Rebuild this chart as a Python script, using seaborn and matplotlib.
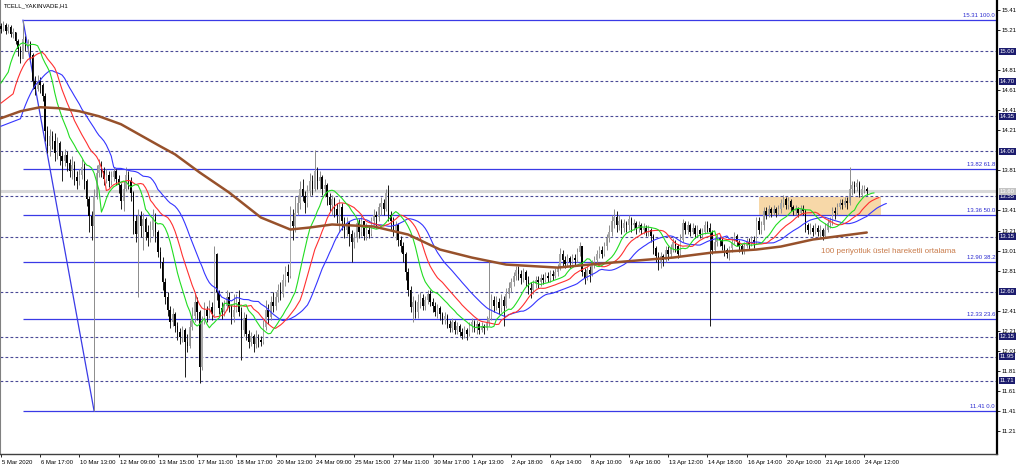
import numpy as np
import pandas as pd
import matplotlib
matplotlib.use("Agg")
import matplotlib.pyplot as plt
import matplotlib.transforms as mtransforms
from matplotlib.patches import Rectangle
import seaborn as sns

# TCELL hourly candles (open = previous close)
first_open = 15.25
closes = [
    15.22, 15.26, 15.20, 15.24, 15.17, 15.19, 15.10, 15.02, 14.92, 15.12, 15.05, 15.08, 14.96, 14.70, 14.62, 14.70,
    14.66, 14.55, 14.20, 14.05, 14.15, 14.10, 13.98, 14.08, 13.95, 13.90, 13.96, 13.88, 13.80, 13.86, 13.74, 13.70,
    13.76, 13.84, 13.70, 13.52, 13.35, 13.25, 13.55, 13.78, 13.86, 13.80, 13.72, 13.76, 13.70, 13.74, 13.80, 13.72,
    13.66, 13.50, 13.62, 13.76, 13.70, 13.58, 13.30, 13.18, 13.35, 13.25, 13.32, 13.20, 13.14, 13.22, 13.34, 13.20,
    13.00, 12.90, 12.70, 12.55, 12.42, 12.30, 12.38, 12.26, 12.20, 12.15, 12.22, 12.10, 12.06, 12.25, 12.36, 12.50,
    12.40, 11.85, 12.30, 12.42, 12.36, 12.45, 12.38, 12.98, 12.60, 12.44, 12.40, 12.46, 12.55, 12.45, 12.35, 12.42,
    12.50, 12.40, 12.22, 12.34, 12.18, 12.10, 12.16, 12.08, 12.14, 12.12, 12.10, 12.25, 12.42, 12.35, 12.50, 12.46,
    12.55, 12.62, 12.58, 12.72, 12.80, 12.76, 13.30, 13.25, 13.38, 13.48, 13.62, 13.55, 13.48, 13.60, 13.70, 13.62,
    13.80, 13.70, 13.74, 13.62, 13.66, 13.54, 13.46, 13.52, 13.42, 13.36, 13.44, 13.30, 13.22, 13.28, 13.18, 13.10,
    13.14, 13.28, 13.20, 13.30, 13.16, 13.22, 13.18, 13.30, 13.36, 13.34, 13.44, 13.48, 13.42, 13.58, 13.36, 13.30,
    13.22, 13.26, 13.12, 13.06, 12.98, 12.80, 12.62, 12.45, 12.50, 12.40, 12.50, 12.54, 12.46, 12.52, 12.58, 12.50,
    12.46, 12.40, 12.44, 12.38, 12.32, 12.36, 12.28, 12.24, 12.30, 12.22, 12.26, 12.20, 12.16, 12.22, 12.18, 12.26,
    12.30, 12.24, 12.28, 12.22, 12.26, 12.24, 12.30, 12.34, 12.52, 12.46, 12.50, 12.44, 12.52, 12.46, 12.58, 12.64,
    12.70, 12.76, 12.82, 12.78, 12.74, 12.80, 12.72, 12.64, 12.62, 12.68, 12.72, 12.70, 12.74, 12.72, 12.76, 12.74,
    12.78, 12.76, 12.80, 12.84, 12.98, 12.92, 12.88, 12.94, 12.90, 12.94, 12.92, 13.00, 13.06, 12.80, 12.74, 12.82,
    12.78, 12.88, 12.92, 12.98, 13.02, 12.98, 13.06, 13.14, 13.20, 13.30, 13.34, 13.26, 13.30, 13.24, 13.28, 13.26,
    13.32, 13.26, 13.28, 13.24, 13.26, 13.22, 13.24, 13.20, 13.22, 13.16, 13.04, 12.96, 12.90, 12.96, 12.92, 13.02,
    12.98, 13.04, 13.10, 13.06, 12.98, 13.12, 13.28, 13.22, 13.26, 13.20, 13.24, 13.18, 13.22, 13.18, 13.20, 13.26,
    13.24, 13.20, 13.02, 13.10, 13.14, 13.12, 13.06, 13.02, 12.98, 13.04, 13.10, 13.16, 13.10, 13.06, 13.02, 13.06,
    13.10, 13.08, 13.12, 13.10, 13.30, 13.22, 13.26, 13.40, 13.36, 13.42, 13.38, 13.42, 13.38, 13.42, 13.48, 13.52,
    13.46, 13.50, 13.44, 13.40, 13.42, 13.38, 13.42, 13.40, 13.26, 13.22, 13.24, 13.20, 13.24, 13.20, 13.22, 13.16,
    13.22, 13.28, 13.30, 13.40, 13.38, 13.44, 13.48, 13.46, 13.50, 13.48, 13.62, 13.66, 13.64, 13.68, 13.56, 13.62, 13.62, 13.60,
]
highs = [
    15.28, 15.30, 15.28, 15.27, 15.26, 15.23, 15.19, 15.12, 15.05, 15.31, 15.15, 15.12, 15.10, 14.98, 14.75, 14.76,
    14.74, 14.68, 14.58, 14.25, 14.22, 14.20, 14.18, 14.14, 14.10, 14.00, 14.02, 14.00, 13.92, 13.95, 13.90, 13.80,
    13.82, 13.92, 13.88, 13.72, 13.55, 13.40, 13.62, 13.86, 13.92, 13.90, 13.84, 13.82, 13.80, 13.80, 13.84, 13.82,
    13.76, 13.68, 13.70, 13.84, 13.80, 13.74, 13.60, 13.36, 13.42, 13.40, 13.38, 13.34, 13.26, 13.30, 13.42, 13.38,
    13.22, 13.05, 12.95, 12.74, 12.60, 12.46, 12.44, 12.40, 12.30, 12.24, 12.26, 12.24, 12.18, 12.32, 12.45, 12.58,
    12.55, 12.42, 12.36, 12.50, 12.46, 12.52, 12.50, 13.06, 12.99, 12.62, 12.50, 12.52, 12.62, 12.60, 12.48, 12.58,
    12.58, 12.62, 12.45, 12.40, 12.38, 12.22, 12.20, 12.18, 12.22, 12.18, 12.16, 12.32, 12.52, 12.48, 12.56, 12.60,
    12.60, 12.68, 12.70, 12.78, 12.86, 12.88, 13.45, 13.42, 13.55, 13.56, 13.70, 13.72, 13.60, 13.66, 13.78, 13.76,
    14.01, 13.84, 13.80, 13.76, 13.72, 13.68, 13.58, 13.56, 13.54, 13.48, 13.52, 13.48, 13.34, 13.34, 13.30, 13.22,
    13.20, 13.32, 13.32, 13.36, 13.30, 13.28, 13.26, 13.34, 13.42, 13.40, 13.48, 13.54, 13.52, 13.62, 13.66, 13.40,
    13.34, 13.30, 13.28, 13.16, 13.10, 13.00, 12.84, 12.66, 12.56, 12.52, 12.58, 12.60, 12.58, 12.56, 12.62, 12.62,
    12.54, 12.50, 12.48, 12.46, 12.40, 12.40, 12.38, 12.32, 12.34, 12.32, 12.30, 12.28, 12.24, 12.26, 12.24, 12.30,
    12.34, 12.32, 12.32, 12.30, 12.30, 12.28, 12.36, 12.92, 12.58, 12.56, 12.56, 12.54, 12.58, 12.56, 12.64, 12.70,
    12.74, 12.80, 12.86, 12.86, 12.82, 12.84, 12.82, 12.76, 12.70, 12.72, 12.76, 12.76, 12.78, 12.78, 12.80, 12.80,
    12.82, 12.82, 12.84, 12.88, 13.04, 13.02, 12.96, 12.98, 12.96, 12.98, 12.98, 13.04, 13.10, 13.06, 12.84, 12.86,
    12.86, 12.92, 12.96, 13.02, 13.06, 13.06, 13.10, 13.18, 13.26, 13.36, 13.42, 13.40, 13.36, 13.32, 13.32, 13.30,
    13.36, 13.34, 13.32, 13.30, 13.30, 13.28, 13.28, 13.26, 13.26, 13.24, 13.18, 13.06, 13.00, 13.00, 12.98, 13.06,
    13.06, 13.08, 13.14, 13.12, 13.08, 13.18, 13.32, 13.30, 13.30, 13.28, 13.28, 13.26, 13.26, 13.24, 13.24, 13.30,
    13.30, 13.28, 13.22, 13.14, 13.18, 13.16, 13.14, 13.08, 13.04, 13.06, 13.14, 13.20, 13.18, 13.12, 13.08, 13.10,
    13.14, 13.14, 13.16, 13.16, 13.34, 13.34, 13.30, 13.44, 13.44, 13.46, 13.44, 13.46, 13.44, 13.46, 13.52, 13.56,
    13.54, 13.54, 13.52, 13.46, 13.46, 13.44, 13.46, 13.46, 13.42, 13.28, 13.28, 13.26, 13.28, 13.26, 13.26, 13.24,
    13.28, 13.32, 13.34, 13.44, 13.44, 13.48, 13.52, 13.52, 13.54, 13.54, 13.84, 13.70, 13.70, 13.72, 13.70, 13.66, 13.66, 13.64,
]
lows = [
    15.18, 15.20, 15.17, 15.18, 15.14, 15.13, 15.07, 14.95, 14.88, 14.93, 15.00, 14.98, 14.92, 14.62, 14.56, 14.60,
    14.58, 14.50, 14.10, 13.98, 13.95, 14.02, 13.90, 13.92, 13.86, 13.70, 13.85, 13.80, 13.74, 13.72, 13.66, 13.62,
    13.66, 13.72, 13.62, 13.45, 13.20, 13.12, 11.41, 13.52, 13.74, 13.74, 13.66, 13.68, 13.64, 13.66, 13.70, 13.66,
    13.58, 13.42, 13.40, 13.60, 13.62, 13.50, 13.18, 13.10, 12.55, 13.15, 13.02, 13.12, 13.06, 13.10, 13.16, 13.10,
    12.95, 12.84, 12.62, 12.48, 12.36, 12.24, 12.26, 12.20, 12.12, 12.08, 12.10, 11.75, 12.00, 12.04, 12.22, 12.30,
    12.32, 11.69, 11.82, 12.28, 12.30, 12.34, 12.32, 12.36, 12.52, 12.38, 12.33, 12.36, 12.42, 12.40, 12.28, 12.30,
    12.40, 12.36, 11.92, 12.16, 12.12, 12.04, 12.06, 12.00, 12.04, 12.05, 12.06, 12.08, 12.22, 12.28, 12.32, 12.40,
    12.42, 12.50, 12.52, 12.55, 12.66, 12.70, 12.74, 13.12, 13.20, 13.36, 13.42, 13.50, 13.38, 13.44, 13.55, 13.56,
    13.60, 13.62, 13.62, 13.56, 13.54, 13.46, 13.40, 13.36, 13.34, 13.28, 13.20, 13.22, 13.14, 13.16, 13.06, 12.90,
    13.04, 13.10, 13.14, 13.16, 13.12, 13.12, 13.14, 13.16, 13.26, 13.24, 13.30, 13.36, 13.36, 13.40, 13.30, 13.22,
    13.16, 13.12, 13.06, 13.00, 12.90, 12.72, 12.56, 12.40, 12.30, 12.34, 12.34, 12.44, 12.42, 12.42, 12.48, 12.46,
    12.40, 12.36, 12.34, 12.32, 12.28, 12.28, 12.24, 12.20, 12.20, 12.18, 12.18, 12.16, 12.13, 12.14, 12.12, 12.16,
    12.20, 12.20, 12.18, 12.18, 12.20, 12.18, 12.22, 12.26, 12.32, 12.40, 12.42, 12.38, 12.40, 12.26, 12.44, 12.54,
    12.60, 12.66, 12.72, 12.72, 12.68, 12.70, 12.66, 12.58, 12.54, 12.58, 12.64, 12.64, 12.66, 12.68, 12.70, 12.70,
    12.70, 12.72, 12.74, 12.76, 12.82, 12.86, 12.84, 12.86, 12.84, 12.88, 12.86, 12.90, 12.96, 12.76, 12.68, 12.72,
    12.70, 12.76, 12.84, 12.88, 12.94, 12.94, 12.96, 13.02, 13.10, 13.16, 13.24, 13.20, 13.22, 13.18, 13.20, 13.20,
    13.22, 13.20, 13.22, 13.18, 13.20, 13.18, 13.18, 13.16, 13.16, 13.10, 12.98, 12.90, 12.82, 12.84, 12.86, 12.90,
    12.92, 12.94, 13.00, 13.00, 12.94, 12.96, 13.10, 13.18, 13.18, 13.16, 13.18, 13.14, 13.16, 13.14, 13.14, 13.18,
    13.20, 12.26, 12.98, 13.00, 13.06, 13.06, 13.02, 12.96, 12.94, 12.92, 13.00, 13.08, 13.06, 13.00, 12.98, 12.98,
    13.04, 13.02, 13.06, 13.04, 13.08, 13.18, 13.18, 13.22, 13.32, 13.34, 13.34, 13.36, 13.34, 13.36, 13.38, 13.44,
    13.42, 13.42, 13.40, 13.36, 13.36, 13.34, 13.36, 13.36, 13.20, 13.18, 13.18, 13.16, 13.18, 13.16, 13.14, 13.12,
    13.14, 13.20, 13.24, 13.26, 13.32, 13.36, 13.42, 13.42, 13.44, 13.42, 13.46, 13.56, 13.58, 13.60, 13.54, 13.54, 13.58, 13.56,
]

# 100-period exponential average
ema_bars = [0, 8, 16, 24, 32, 40, 49, 57, 65, 71, 81, 93, 106, 118, 126, 135, 152, 166, 179,
            192, 206, 227, 240, 254, 274, 290, 308, 318, 331, 353]
ema_prices = [14.33, 14.40, 14.44, 14.43, 14.40, 14.35, 14.27, 14.16, 14.05, 13.97, 13.79, 13.59,
              13.34, 13.22, 13.24, 13.27, 13.25, 13.17, 13.02, 12.94, 12.87, 12.84, 12.87, 12.90,
              12.94, 12.99, 13.02, 13.05, 13.12, 13.19]

# time axis labels, one every 16 bars
x_labels = ["5 Mar 2020", "6 Mar 17:00", "10 Mar 13:00", "12 Mar 09:00", "13 Mar 15:00",
            "17 Mar 11:00", "18 Mar 17:00", "20 Mar 13:00", "24 Mar 09:00", "25 Mar 15:00",
            "27 Mar 11:00", "30 Mar 17:00", "1 Apr 13:00", "2 Apr 18:00", "6 Apr 14:00",
            "8 Apr 10:00", "9 Apr 16:00", "13 Apr 12:00", "14 Apr 18:00", "16 Apr 14:00",
            "20 Apr 10:00", "21 Apr 16:00", "24 Apr 12:00"]
label_step = 16

# price scale on the right
ytick_values = [15.41, 15.21, 14.81, 14.61, 14.41, 14.21, 13.81, 13.41, 13.21, 13.01,
                12.81, 12.41, 12.21, 12.01, 11.81, 11.61, 11.41, 11.21]

# horizontal support / resistance lines
dashed_levels = [15.00, 14.70, 14.35, 14.00, 13.55, 13.15, 12.60, 12.15, 11.95, 11.71]
last_price = 13.60

# fibonacci retracement anchors (bar, price) and ratios
fib_bars = [9, 38]
fib_prices = [15.31, 11.41]
fib_ratios = [100.0, 61.8, 50.0, 38.2, 23.6, 0.0]

# shaded zone
zone_bars = [309, 359]
zone_prices = [13.35, 13.54]

# alligator warm-up values at the left edge
lips_seed, teeth_seed, jaw_seed = 14.68, 14.48, 14.25

df = pd.DataFrame({"close": closes, "high": highs, "low": lows})
df["open"] = [first_open] + closes[:-1]
df["bar"] = np.arange(len(df))
df["median"] = (df["high"] + df["low"]) / 2


def smma(seed, period, shift):
    s = pd.Series([seed] + df["median"].tolist()).ewm(alpha=1 / period, adjust=False).mean()
    pos = [0] + list(df["bar"] + shift)
    return pd.DataFrame({"bar": pos, "val": s.values})


ema_df = pd.DataFrame({"bar": ema_bars, "val": ema_prices})

sns.set_theme(style="white")
plt.rcParams["font.family"] = ["Liberation Sans", "DejaVu Sans"]

fig = plt.figure(figsize=(10.24, 4.67), dpi=100)
ax = fig.add_axes([0, 13 / 467, 997 / 1024, 454 / 467])
x_max = 406.1
ax.set_xlim(-0.35, x_max)
ax.set_ylim(10.98, 15.51)

# zone and current price line
ax.add_patch(Rectangle((zone_bars[0], zone_prices[0]), zone_bars[1] - zone_bars[0],
                       zone_prices[1] - zone_prices[0], facecolor="#f7d8a8", edgecolor="none", zorder=0.5))
ax.axhline(last_price, color="#d8d8d8", lw=2.2, zorder=0.8)

for lv in dashed_levels:
    ax.axhline(lv, color="#4a4a96", lw=0.8, ls=(0, (2.5, 2)), zorder=1)

# fibonacci
blue = "#3a3ae6"
fib_levels = [fib_prices[1] + (fib_prices[0] - fib_prices[1]) * r / 100 for r in fib_ratios]
ax.hlines(fib_levels, fib_bars[0], x_max, color=blue, lw=0.9, zorder=2)
ax.plot(fib_bars, fib_prices, color=blue, lw=0.9, zorder=2)
blend = mtransforms.blended_transform_factory(ax.transAxes, ax.transData)
lbl_tr = mtransforms.offset_copy(blend, fig=fig, x=0, y=1.5, units="points")
for lv, r in zip(fib_levels, fib_ratios):
    ax.text(0.998, lv, f"{lv:.2f} {r:.1f}", transform=lbl_tr, ha="right", va="bottom",
            fontsize=4.3, color="#2a2ad0", zorder=5)

# candles
bull = df["close"] >= df["open"]
wick_cols = np.where(bull, "#8c8c8c", "#1a1a1a")
body_cols = np.where(bull, "#a8a8a8", "#000000")
ax.vlines(df["bar"], df["low"], df["high"], colors=wick_cols, lw=0.7, zorder=3)
body_h = (df["close"] - df["open"]).abs().clip(lower=0.008)
ax.bar(df["bar"], body_h, bottom=df[["open", "close"]].min(axis=1), width=0.6,
       color=body_cols, linewidth=0, zorder=3.5)

# alligator + ema100
for seed, period, shift, col in [(jaw_seed, 13, 8, "#3535ff"), (teeth_seed, 8, 5, "#ff3030"),
                                 (lips_seed, 5, 3, "#22dd22")]:
    line = smma(seed, period, shift)
    sns.lineplot(data=line, x="bar", y="val", ax=ax, color=col, lw=0.8, sort=False,
                 estimator=None, zorder=4)
sns.lineplot(data=ema_df, x="bar", y="val", ax=ax, color="#97512b", lw=1.8, sort=False,
             estimator=None, zorder=4.2)

ax.text(334.4, 13.0, "100 periyotluk üstel hareketli ortalama", fontsize=5.8,
        color="#c97c4c", ha="left", va="center", zorder=5)
ax.text(0.004, 0.993, "TCELL_YAKINVADE,H1", transform=ax.transAxes, ha="left", va="top",
        fontsize=4.3, color="black")

# right price boxes
box_tr = mtransforms.offset_copy(blend, fig=fig, x=2.0, y=0, units="points")
for lv in dashed_levels:
    ax.text(1.0, lv, f"{lv:.2f}", transform=box_tr, ha="left", va="center", fontsize=4.3,
            color="white", clip_on=False, zorder=6,
            bbox=dict(boxstyle="square,pad=0.15", fc="#1c1c6e", ec="none"))
ax.text(1.0, last_price, f"{last_price:.2f}", transform=box_tr, ha="left", va="center",
        fontsize=4.3, color="white", clip_on=False, zorder=6,
        bbox=dict(boxstyle="square,pad=0.15", fc="#c4c4c4", ec="none"))

# axes styling
ax.set_xlabel("")
ax.set_ylabel("")
ax.yaxis.tick_right()
ax.set_yticks(ytick_values)
ax.set_yticklabels([f"{v:.2f}" for v in ytick_values])
ax.set_xticks(np.arange(len(x_labels)) * label_step)
ax.set_xticklabels(x_labels, ha="left")
ax.tick_params(axis="y", which="both", right=True, left=False, length=2.5, width=0.6,
               pad=1, labelsize=4.3, colors="black", direction="out")
ax.tick_params(axis="x", which="both", bottom=True, length=2.5, width=0.6, pad=1.5,
               labelsize=4.3, colors="black", direction="out")
for lab in ax.get_xticklabels():
    lab.set_transform(lab.get_transform() + mtransforms.ScaledTranslation(1 / 100, 0, fig.dpi_scale_trans))
ax.spines["top"].set_visible(False)
ax.spines["left"].set_color("#808080")
ax.spines["left"].set_linewidth(0.8)
ax.spines["right"].set_color("black")
ax.spines["right"].set_linewidth(1.6)
ax.spines["bottom"].set_color("#404040")
ax.spines["bottom"].set_linewidth(1.0)
ax.grid(False)

fig.savefig("out.png", dpi=100, facecolor="white")
